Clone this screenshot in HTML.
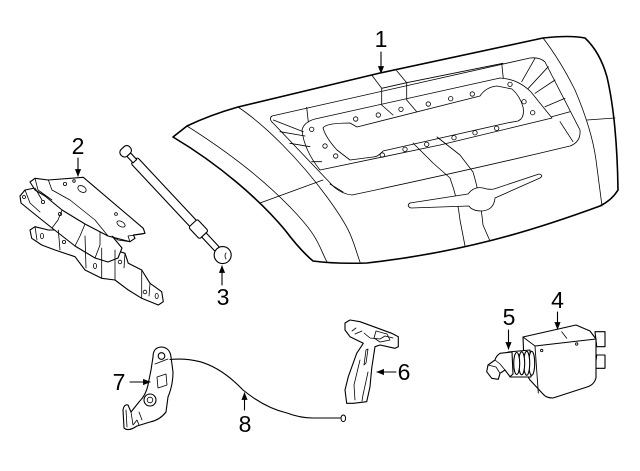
<!DOCTYPE html>
<html><head><meta charset="utf-8"><style>
html,body{margin:0;padding:0;background:#fff;}
svg{display:block;}
text{font-family:"Liberation Sans",Arial,sans-serif;font-size:23px;fill:#000;}
</style></head><body>
<svg width="640" height="471" viewBox="0 0 640 471" xmlns="http://www.w3.org/2000/svg">
<defs>
<marker id="ah" viewBox="0 0 10 10" refX="9" refY="5" markerWidth="7" markerHeight="7" orient="auto"><path d="M0,1 L10,5 L0,9 Z" fill="#000"/></marker>
</defs>
<g fill="none" stroke="#000" stroke-linejoin="round" stroke-linecap="round">

<!-- LIFTGATE (1) -->
<path d="M173,137 L187,126 Q210,115 238,107 L380,73 L543,38 Q570,35 585,38 Q600,52 607,77 Q617,120 618,190 Q612,200 600,206 Q540,228 493,240 Q430,256 367,263 Q335,264 313,261 Q300,250 285,230 C260,200 220,165 173,137 Z" fill="#fff" stroke-width="1.6"/>
<g stroke-width="0.8">
<path d="M187,126 C225,150 260,176 290,207 S318,245 327,262"/>
<path d="M238,107 C265,125 300,160 327,197 S352,240 360,262"/>
<path d="M260,203 L323,180"/>
<path d="M543,38 Q560,60 575,90 Q592,130 596,160 L602,206"/>
<path d="M587,120 L615,118"/>
<path d="M272,116 L530,58 Q540,57 545,62 L580,130 Q581,142 570,146 Q470,170 352,195 Q342,194 334,187 L274,124 Q268,119 272,116 Z"/>
<path d="M320,170 Q304,150 302,130 Q304,122 315,119 L500,78 Q518,79 531,92 L552,118 L440,145 Z"/>
<path d="M323,128 Q326,123 350,123 L357,127 L480,96 Q486,87 497,86 L512,89 Q520,96 523,107 Q525,118 518,121 L507,123 L383,151 Q378,157 373,157 L350,160 L337,150 Q326,138 323,128 Z"/>
<path d="M501.7,63.3 L503.3,78.3 M521.7,81.7 L535,58.3 M528.3,88.3 L548.3,66.7 M535,93.3 L555,80 M545,106.7 L565,98.3 M551.7,116.7 L570,111.7 M560,121.7 L573,141.7"/>
<path d="M273.3,120 L303.3,131.7 M280,131.7 L305,136 M290,143.3 L310,146.7 M311.7,161.7 L321.7,161.7 M306.7,107.3 L308.3,122"/>
<path d="M330,184 L343,192"/>
<path d="M371.7,75 L381.7,88.3 L381.7,105 L393,115"/>
<path d="M396.7,70.7 L406.7,82.7 L406.7,100 L416.7,111.7"/>
<path d="M381.7,88.3 L406.7,82.7 L503,63.3"/>
<path d="M413,143 L433,163 L450,178 Q458,200 460,220 L465,246"/>
<path d="M437,137 L460,155 L473,172 Q480,195 483,225 L490,241"/>
<path d="M410,203 L468,194 Q474,186 483,188 Q489,190 494,189 L539,174 Q544,175 540,178 L495,198 Q494,210 482,211 Q472,211 469,206 L411,208 Q406,206 410,203 Z" fill="#fff"/>
</g>
<g stroke-width="0.8">
<circle cx="311.7" cy="129.3" r="2.2"/><circle cx="325" cy="146" r="2.2"/><circle cx="335.7" cy="156" r="2.2"/>
<circle cx="355.7" cy="119" r="2.2"/><circle cx="378.3" cy="115" r="2.2"/><circle cx="401" cy="109.3" r="2.2"/>
<circle cx="428.3" cy="104" r="2.2"/><circle cx="450.7" cy="98.7" r="2.2"/><circle cx="472.3" cy="94" r="2.2"/>
<circle cx="510" cy="84.3" r="2.2"/><circle cx="524" cy="101.7" r="2.2"/><circle cx="532.7" cy="112.7" r="2.2"/>
<circle cx="496.7" cy="128.3" r="2.2"/><circle cx="475" cy="132.7" r="2.2"/><circle cx="454" cy="137.7" r="2.2"/>
<circle cx="426.7" cy="144.3" r="2.2"/><circle cx="405" cy="149.3" r="2.2"/><circle cx="382.3" cy="155" r="2.2"/>
</g>

<!-- HINGE (2) -->
<g stroke-width="1.1">
<path d="M30,230 L35,226.7 L48.3,230 L58.3,230 L85,236 L115,250 L125,253.3 L128.3,263.3 L141.7,270 L150,283.3 L161.7,291.7 L163.3,301.7 L158.3,305 L141.7,298.3 L128.3,290 L115,280 L101.7,278.3 L85,270 L75,256.7 L55,250 L41.7,245 L31.7,238.3 Z" fill="#fff"/>
<path d="M20,196 L25,190 L35,188 L60,203 L90,220 L112,236 L122,248 L118,258 L108,262 L95,258 L75,246 L52,228 L32,212 L21,203 Z" fill="#fff"/>
<path d="M30,182 L35,178.3 L48.3,180 L83.3,177.3 L143.3,228.3 L145,233.3 L133.3,235 L135,238.3 L130,241.7 L108,236 L85,224 L62,210 L45,196 L35,190 Z" fill="#fff"/>
</g>
<g stroke-width="0.8">
<path d="M35,178.3 L38,190 L52,200 M48.3,180 L52,190 L70,200 L95,220 L108,236"/>
<path d="M25,190 L30,203 L40,212 M35,188 L42,200 M52,228 L58,220 L62,210 M75,246 L80,236 L85,224 M95,258 L100,245 L100,232"/>
<path d="M35,226.7 L37,240 M58.3,230 L60,250 M85,236 L86,268 M101.7,248 L101.7,278.3 M115,250 L115,280 M125,253.3 L124,268 M141.7,270 L141.7,298.3 M150,283.3 L149,296"/>
<path d="M130,241.7 L128,236 L143,234 M112,236 L118,240 L130,241.7"/>
<ellipse cx="82" cy="189" rx="4.5" ry="3" transform="rotate(30 82 189)"/>
<circle cx="65" cy="184" r="1.6"/><circle cx="74" cy="181" r="1.3"/><circle cx="24" cy="197" r="1.5"/>
<circle cx="43" cy="202" r="1.6"/><circle cx="60" cy="214" r="1.6"/><circle cx="116" cy="214" r="1.4"/>
<ellipse cx="121" cy="224" rx="4.5" ry="2.5" transform="rotate(30 121 224)"/>
<ellipse cx="42" cy="236" rx="1.6" ry="2.6"/><ellipse cx="95" cy="266" rx="1.6" ry="2.6"/>
<circle cx="64" cy="242" r="1.6"/><circle cx="120" cy="262" r="1.8"/><circle cx="145" cy="292" r="1.8"/><ellipse cx="156.7" cy="296" rx="1.6" ry="2.6"/>
</g>

<!-- STRUT (3) -->
<g transform="translate(126,151.7) rotate(46.9)" stroke-width="1.1" fill="#fff">
<rect x="12" y="-4.5" width="87" height="9" rx="2"/>
<rect x="4" y="-2.5" width="9" height="5"/>
<rect x="-5" y="-6" width="9" height="12" rx="4"/>
<rect x="98" y="-6" width="16" height="12" rx="2"/>
<rect x="114" y="-3" width="20" height="6"/>
<circle cx="141.5" cy="0" r="8.5"/>
</g>
<path d="M226,253 Q224,256 226,259" stroke-width="0.8"/>

<!-- ACTUATOR (4) and PLUNGER (5) -->
<g stroke-width="1.1">
<path d="M595,331.7 L605,331.7 L605,346.7 L596.7,346.7 Z M596.7,355 L605,355 L605,368.3 L595,368.3 Z" fill="#fff"/>
<path d="M523,337 L576,325 L590,331 L596,339 L596,378 Q594,385 587,387 L553,398 Q546,398 543,394 L530,380 Q524,372 524,362 Z" fill="#fff"/>
<path d="M523,337 L535,346 L596,339 M535,346 L538.3,393" stroke-width="0.9"/>
<path d="M561.7,331.7 L566.7,338.3" stroke-width="0.8"/>
<circle cx="541.7" cy="350.5" r="1.2" stroke-width="0.8"/><circle cx="576.7" cy="344" r="1.2" stroke-width="0.8"/>
<path d="M508,352 L530,350 L531,377 L510,377 Z" fill="#fff"/>
<ellipse cx="531.7" cy="363.3" rx="3" ry="12" fill="#fff"/>
<ellipse cx="526.7" cy="363.3" rx="3" ry="12" fill="#fff"/>
<ellipse cx="521.7" cy="363.3" rx="3" ry="11.5" fill="#fff"/>
<ellipse cx="516.7" cy="363.5" rx="3" ry="11" fill="#fff"/>
<path d="M512,352 L500,353.3 Q496,356 495,360 L488,365 L486.7,371.7 L491.7,378.3 L498.3,379.3 L500,373.3 L505,370 L510,376.7 L513,374 Z" fill="#fff"/>
<path d="M488,365 L496,367 L500,373.3 M495,360 L500,364 L505,370" stroke-width="0.8"/>
</g>

<!-- HANDLE (6) -->
<g stroke-width="1.1">
<path d="M345,330 L345,323 L350,320 L360,321.7 L391.7,333.3 L398.3,336.7 L398.3,346.7 L395,348.3 L380,345 L375,346.7 L371.7,368.3 L370,386.7 L366.7,401.7 L353.3,403.3 L346.7,403.3 L345,390 L348.3,376.7 L356.7,353.3 L363.3,343.3 L350,336.7 Z" fill="#fff"/>
</g>
<g stroke-width="0.8">
<path d="M355,334 L362,331 M364,333 L370,338 L380,339 L385,336 L393,338"/>
<path d="M376,331 L387,334 L390,340 L380,342 L374,338 Z"/>
<path d="M368,349 L366,363 L364,365 L366,350 Z"/>
<path d="M360,360 L354,385 L355,400 M368,372 L363,395 L362,401"/>
<path d="M352,331 L356,328"/>
</g>

<!-- LEVER (7) -->
<g stroke-width="1.1">
<path d="M153,357 Q153,347 162,347 Q170,348 171,357 L173,372 Q173,385 168,397 L166,412 Q160,420 150,422 L137,426 Q128,432 124,428 L123,410 Q124,404 128,405 L131,412 L139,402 Q146,395 148,385 L151,370 Z" fill="#fff"/>
<circle cx="161.5" cy="356" r="3.3"/>
<circle cx="150" cy="400" r="6"/>
<circle cx="150" cy="400" r="2.8" stroke-width="0.8"/>
<path d="M157,377 L166,374 L167,385 L158,388 Z" stroke-width="0.8"/>
<path d="M126,410 L127,427 M131,412 L133,425 L137,420 L139,425 M139,412 L142,420" stroke-width="0.8"/>
<path d="M155,364 L168,359" stroke-width="0.8"/>
</g>

<!-- CABLE (8) -->
<path d="M170,359.5 Q185,358 200,361.7 Q222,368 243,390 Q265,408 287,413 Q300,418 313,418 L340,418" stroke-width="1.1"/>
<ellipse cx="343.3" cy="418.3" rx="2.3" ry="3.3" fill="#fff" stroke-width="1"/>

<!-- callout arrows -->
<g stroke-width="1.1" marker-end="url(#ah)">
<line x1="381" y1="52" x2="381" y2="73"/>
<line x1="78" y1="158" x2="78" y2="176"/>
<line x1="222" y1="285" x2="222" y2="266"/>
<line x1="557.5" y1="312" x2="557.5" y2="329"/>
<line x1="508.5" y1="330" x2="508.5" y2="349"/>
<line x1="396" y1="372" x2="377" y2="372"/>
<line x1="130" y1="382" x2="150" y2="382"/>
<line x1="244.5" y1="410" x2="244.5" y2="393"/>
</g>
</g>

<g text-anchor="middle">
<text x="381" y="47">1</text>
<text x="78" y="154">2</text>
<text x="223" y="305">3</text>
<text x="557.5" y="308">4</text>
<text x="509" y="325">5</text>
<text x="404" y="380">6</text>
<text x="119" y="390">7</text>
<text x="245" y="432">8</text>
</g>
</svg>
</body></html>
